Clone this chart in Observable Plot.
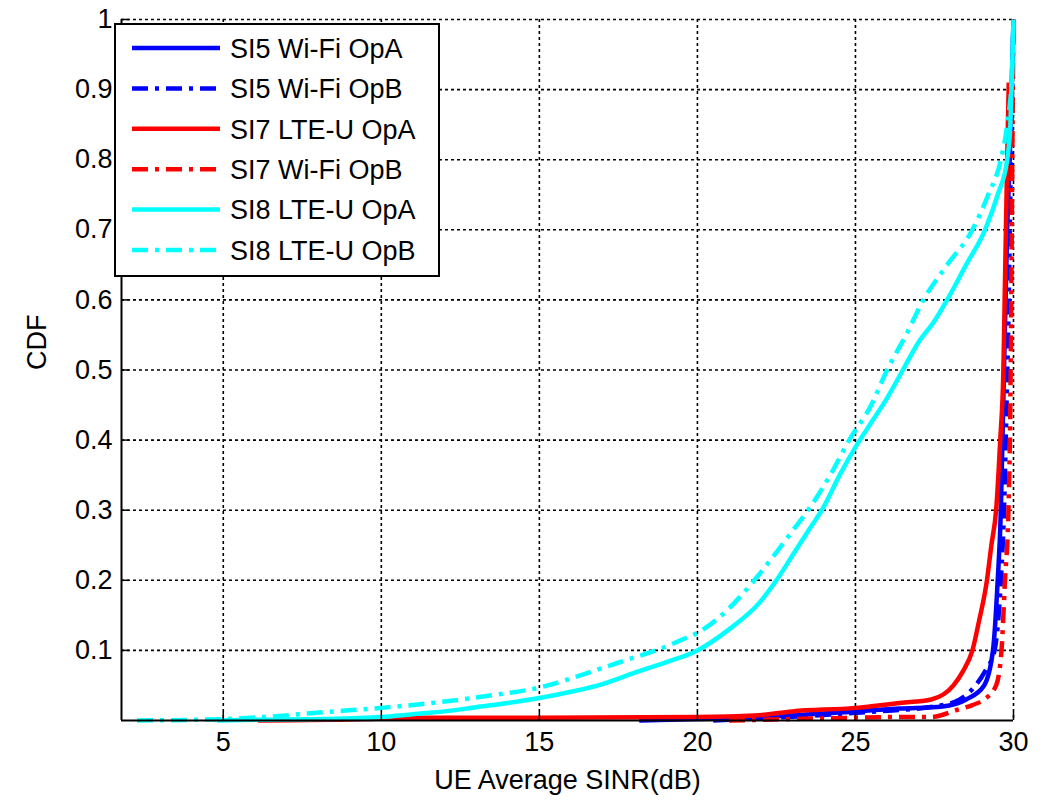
<!DOCTYPE html>
<html>
<head>
<meta charset="utf-8">
<script src="https://cdn.jsdelivr.net/npm/d3@7"></script>
<script src="https://cdn.jsdelivr.net/npm/@observablehq/plot@0.6"></script>
<style>
  html, body { margin: 0; padding: 0; background: #fff; }
  #wrap { position: relative; width: 1053px; height: 800px; font-family: "Liberation Sans", Arial, sans-serif; }
  #legend { position: absolute; left: 114px; top: 23px; width: 322px; height: 250px; border: 2px solid #000; background: #fff; }
  #legend svg { position: absolute; left: 0; top: 0; }
</style>
</head>
<body>
<div id="wrap"></div>
<script>
// ---- data ----
const xTicks = [5, 10, 15, 20, 25, 30];
const yTicks = [0.1, 0.2, 0.3, 0.4, 0.5, 0.6, 0.7, 0.8, 0.9, 1];
const yTickLabels = ["0.1", "0.2", "0.3", "0.4", "0.5", "0.6", "0.7", "0.8", "0.9", "1"];
const xDomain = [1.78, 30];
const yDomain = [0, 1];

const seriesNames = ["SI5 Wi-Fi OpA", "SI5 Wi-Fi OpB", "SI7 LTE-U OpA", "SI7 Wi-Fi OpB", "SI8 LTE-U OpA", "SI8 LTE-U OpB"];
const seriesColors = ["#0000ff", "#0000ff", "#ff0000", "#ff0000", "#00ffff", "#00ffff"];
const seriesDashed = [false, true, false, true, false, true];

const si5WifiOpA = [[18.16,0],[20,0.002],[22,0.005],[25,0.013],[26.4,0.017],[27.76,0.02],[28.5,0.03],[29.07,0.05],[29.35,0.1],[29.5,0.2],[29.6,0.3],[29.65,0.4],[29.7,0.5],[29.75,0.6],[29.8,0.7],[29.88,0.8],[29.92,0.87],[30,1]];
const si5WifiOpB = [[20.5,0],[22,0.003],[24,0.008],[26,0.014],[27.5,0.02],[28.3,0.03],[28.8,0.05],[29.1,0.07],[29.4,0.1],[29.6,0.2],[29.7,0.3],[29.78,0.45],[29.85,0.6],[29.9,0.75],[29.95,0.88],[30,1]];
const si7LteuOpA = [[6.1,0],[9.5,0.002],[10.6,0.004],[15,0.004],[20,0.005],[21.8,0.007],[23,0.013],[25,0.018],[26.4,0.025],[27.4,0.03],[28.1,0.05],[28.4,0.07],[28.7,0.1],[28.9,0.14],[29.16,0.2],[29.3,0.25],[29.45,0.3],[29.58,0.4],[29.68,0.5],[29.72,0.6],[29.76,0.7],[29.8,0.8],[29.85,0.91]];
const si7WifiOpB = [[21,0],[24,0.003],[26.37,0.005],[27.4,0.005],[28.2,0.015],[28.7,0.022],[29.07,0.03],[29.45,0.05],[29.62,0.1],[29.73,0.2],[29.84,0.3],[29.9,0.45],[29.93,0.6],[29.96,0.8],[30,1]];
const si8LteuOpA = [[4.8,0],[6,0.001],[8,0.002],[10,0.005],[11,0.009],[12,0.013],[13,0.019],[14,0.025],[15,0.032],[16,0.041],[17,0.052],[18,0.068],[19,0.083],[20,0.1],[21,0.13],[22,0.17],[22.5,0.2],[23,0.235],[23.5,0.27],[24,0.305],[24.5,0.35],[25,0.39],[25.5,0.425],[26,0.46],[26.5,0.5],[27,0.54],[27.5,0.57],[27.9,0.6],[28.5,0.65],[29.1,0.7],[29.5,0.75],[29.8,0.8],[29.9,0.85],[29.95,0.92],[30,1]];
const si8LteuOpB = [[2.27,0],[4,0.001],[5,0.002],[6.3,0.005],[8.2,0.012],[10,0.018],[12,0.027],[13.5,0.036],[15,0.047],[16,0.06],[17.2,0.078],[18,0.09],[18.7,0.1],[19.5,0.115],[20,0.125],[21,0.16],[21.8,0.2],[22.5,0.24],[23,0.27],[23.5,0.3],[24.2,0.35],[24.8,0.4],[25.5,0.45],[26,0.5],[26.6,0.55],[27.15,0.6],[27.9,0.65],[28.7,0.7],[29.2,0.75],[29.6,0.8],[29.8,0.85],[29.95,0.92],[30,1]];
const seriesData = [si5WifiOpA, si5WifiOpB, si7LteuOpA, si7WifiOpB, si8LteuOpA, si8LteuOpB];

// ---- layout ----
const W = 1053, H = 800, mL = 121, mR = 40, mT = 19, mB = 80;
const FONT = "Liberation Sans, Arial, sans-serif";
const FS = 27;
const dashDot = "16,7,4,7";
const tickLen = 8;
const tickDX = tickLen * (xDomain[1] - xDomain[0]) / (W - mL - mR);
const tickDY = tickLen * (yDomain[1] - yDomain[0]) / (H - mT - mB);
const grid = {stroke: "#000", strokeWidth: 1.6, strokeDasharray: "3,3"};

const lineMarks = seriesData.map((s, i) => Plot.line(s, {
  x: d => d[0], y: d => d[1],
  curve: "monotone-x",
  stroke: seriesColors[i], strokeWidth: 4.5,
  strokeDasharray: seriesDashed[i] ? dashDot : null,
  strokeLinejoin: "round", strokeLinecap: "butt"
}));

const chart = Plot.plot({
  width: W, height: H,
  marginLeft: mL, marginRight: mR, marginTop: mT, marginBottom: mB,
  style: {fontFamily: FONT, fontSize: FS + "px", color: "#000", background: "#fff", overflow: "visible"},
  x: {domain: xDomain, label: null},
  y: {domain: yDomain, label: null},
  marks: [
    Plot.ruleX(xTicks, {...grid}),
    Plot.ruleY(yTicks, {...grid}),
    ...lineMarks,
    Plot.ruleX([xDomain[0]], {stroke: "#000", strokeWidth: 2}),
    Plot.ruleY([yDomain[0]], {stroke: "#000", strokeWidth: 2}),
    Plot.ruleX(xTicks, {y1: yDomain[0], y2: yDomain[0] + tickDY, stroke: "#000", strokeWidth: 1.5}),
    Plot.ruleY(yTicks, {x1: xDomain[0], x2: xDomain[0] + tickDX, stroke: "#000", strokeWidth: 1.5}),
    Plot.axisX(xTicks, {tickSize: 0, tickPadding: 11, tickFormat: d => String(d), fontSize: FS}),
    Plot.axisY(yTicks, {tickSize: 0, tickPadding: 9, tickFormat: d => yTickLabels[yTicks.indexOf(d)], fontSize: FS}),
    Plot.text(["UE Average SINR(dB)"], {frameAnchor: "bottom", dy: 68, fontSize: FS}),
    Plot.text(["CDF"], {frameAnchor: "left", rotate: -90, dx: -84, fontSize: FS})
  ]
});

const wrap = document.getElementById("wrap");
wrap.appendChild(chart);

// ---- legend (inside plot, top-left) ----
const leg = document.createElement("div");
leg.id = "legend";
const svgNS = "http://www.w3.org/2000/svg";
const lsvg = document.createElementNS(svgNS, "svg");
lsvg.setAttribute("width", 322);
lsvg.setAttribute("height", 250);
seriesNames.forEach((name, i) => {
  const cy = 23 + i * 40.4;
  const ln = document.createElementNS(svgNS, "line");
  ln.setAttribute("x1", 16); ln.setAttribute("x2", 104);
  ln.setAttribute("y1", cy); ln.setAttribute("y2", cy);
  ln.setAttribute("stroke", seriesColors[i]);
  ln.setAttribute("stroke-width", 4.5);
  if (seriesDashed[i]) ln.setAttribute("stroke-dasharray", dashDot);
  lsvg.appendChild(ln);
  const tx = document.createElementNS(svgNS, "text");
  tx.setAttribute("x", 114); tx.setAttribute("y", cy);
  tx.setAttribute("dy", "0.36em");
  tx.setAttribute("font-size", FS);
  tx.setAttribute("font-family", FONT);
  tx.textContent = name;
  lsvg.appendChild(tx);
});
leg.appendChild(lsvg);
wrap.appendChild(leg);
</script>
</body>
</html>
